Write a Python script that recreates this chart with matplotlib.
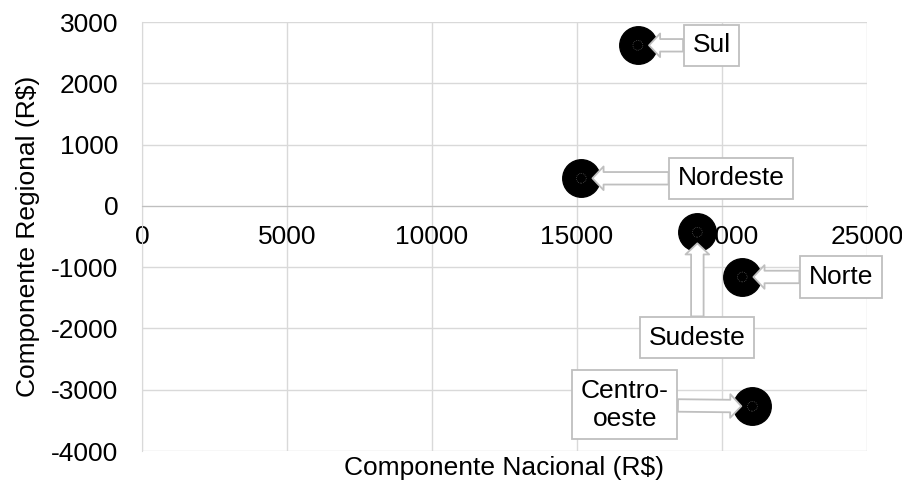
import matplotlib
matplotlib.use("Agg")
import matplotlib.pyplot as plt

plt.rcParams['font.family'] = ['Liberation Sans', 'DejaVu Sans']
plt.rcParams['axes.unicode_minus'] = False

# Regional shift-share components (R$)
regions = ["Sul", "Nordeste", "Sudeste", "Norte", "Centro-\noeste"]
nacional = [17100, 15150, 19150, 20700, 21050]
regional = [2620, 450, -430, -1160, -3270]

x_ticks = [0, 5000, 10000, 15000, 20000, 25000]
y_ticks = [-4000, -3000, -2000, -1000, 0, 1000, 2000, 3000]

# callout offsets (points) from each marker to its label box
label_offsets = [(53, 0), (108, 0), (0, -76), (71, 0), (-92, 1)]

FS = 19
GRID = "#d9d9d9"
EDGE = "#bfbfbf"

fig = plt.figure(figsize=(9.02, 4.87), dpi=100)
ax = fig.add_axes([0.1574, 0.0739, 0.8038, 0.8809])
ax.set_axisbelow(True)

ax.set_xlim(x_ticks[0], x_ticks[-1])
ax.set_ylim(y_ticks[0], y_ticks[-1])
ax.set_xticks(x_ticks)
ax.set_yticks(y_ticks)
ax.grid(True, color=GRID, linewidth=1.0)

for s in ("top", "right"):
    ax.spines[s].set_visible(False)
ax.spines["left"].set_color(GRID)
ax.spines["bottom"].set_position(("data", 0))
ax.spines["bottom"].set_color(EDGE)
ax.tick_params(axis="both", length=0, labelsize=FS, colors="black")
ax.tick_params(axis="x", pad=14)
ax.tick_params(axis="y", pad=17)

ax.set_xlabel("Componente Nacional (R$)", fontsize=FS)
ax.xaxis.set_label_coords(0.5, -0.04, transform=ax.transAxes)
ax.xaxis.label.set_va("center")
ax.set_ylabel("Componente Regional (R$)", fontsize=FS)
ax.yaxis.set_label_coords(-0.157, 0.5, transform=ax.transAxes)
ax.yaxis.label.set_va("center")

# markers: black disc with a faint dotted ring in the centre
ax.plot(nacional, regional, linestyle="none", marker="o", markersize=27,
        markerfacecolor="black", markeredgecolor="black", zorder=3)
ax.scatter(nacional, regional, s=50, facecolors="none",
           edgecolors="#6e6e6e", linewidths=0.5, linestyles=":", zorder=4)

for name, x, y, off in zip(regions, nacional, regional, label_offsets):
    ax.annotate(name, xy=(x, y), xytext=off, textcoords="offset points",
                ha="center", va="center", fontsize=FS, zorder=6,
                bbox=dict(boxstyle="square,pad=0.33", fc="white",
                          ec=EDGE, lw=1.3),
                arrowprops=dict(arrowstyle="simple,head_length=0.4,"
                                "head_width=0.85,tail_width=0.45",
                                mutation_scale=20, fc="white", ec=EDGE,
                                lw=1.3, shrinkA=0, shrinkB=8))

fig.savefig("out.png", dpi=100)
